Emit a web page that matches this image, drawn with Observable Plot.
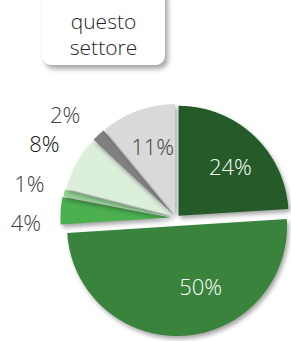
<!DOCTYPE html>
<html>
<head>
<meta charset="utf-8">
<script src="https://cdn.jsdelivr.net/npm/d3@7"></script>
<script src="https://cdn.jsdelivr.net/npm/@observablehq/plot@0.6"></script>
<style>
  html, body { margin: 0; padding: 0; background: #fff; }
  #wrap { position: relative; width: 291px; height: 341px; overflow: hidden; font-family: "Open Sans", sans-serif; }
  #title {
    position: absolute; left: 42px; top: -12px; width: 123px; height: 77px;
    background: #fff; border-radius: 9px;
    box-shadow: 3px 4px 5px rgba(0,0,0,0.35);
    color: #262626; font-size: 21px; font-weight: 300; line-height: 26px; text-align: center;
    box-sizing: border-box; padding-top: 20px; z-index: 2;
  }
  #chart { position: absolute; left: 0; top: 0; }
  #chart g[aria-label="line"] path { filter: drop-shadow(2px 3px 2px rgba(0,0,0,0.35)); }
</style>
</head>
<body>
<div id="wrap">
  <div id="title">questo<br>settore</div>
  <div id="chart"></div>
</div>
<script>
// ---- data ----
const labels = ["24%", "50%", "4%", "1%", "8%", "2%", "11%"];
const values = [24, 50, 4, 1, 8, 2, 11];
const colors = ["#255b29", "#39833c", "#4caf50", "#93d193", "#dbefdb", "#808080", "#d9d9d9"];
const labelColors = ["#ffffff", "#ffffff", "#404040", "#404040", "#111111", "#404040", "#404040"];
const labelInside = [true, true, false, false, false, false, true];

// ---- layout ----
const W = 291, H = 341, R = 110;
const explode = [3, 8, 6, 5, 4, 4, 4];          // px, along mid-angle
const labelShift = [3.7, -15.5, -6, 0, 0, -4.4, 0.9]; // degrees
const rIn = 0.67, rOut = 1.37;

const arcs = d3.pie().sort(null).startAngle(0).endAngle(2 * Math.PI)(values);

const slices = arcs.map((a, i) => {
  const m = (a.startAngle + a.endAngle) / 2;
  const e = explode[i] / R;
  const ox = e * Math.sin(m), oy = e * Math.cos(m);
  const pts = [{x: ox, y: oy}];
  const n = Math.max(2, Math.ceil((a.endAngle - a.startAngle) / (Math.PI / 360)));
  for (let k = 0; k <= n; k++) {
    const t = a.startAngle + (a.endAngle - a.startAngle) * k / n;
    pts.push({x: ox + Math.sin(t), y: oy + Math.cos(t)});
  }
  return {pts, color: colors[i]};
});

const labelData = arcs.map((a, i) => {
  const m = (a.startAngle + a.endAngle) / 2 + labelShift[i] * Math.PI / 180;
  const r = labelInside[i] ? rIn : rOut;
  return {x: r * Math.sin(m), y: r * Math.cos(m), text: labels[i], color: labelColors[i]};
});

const chart = Plot.plot({
  width: W, height: H,
  marginLeft: 176 - R, marginRight: W - (176 + R),
  marginTop: 217.5 - R, marginBottom: H - (217.5 + R),
  x: {domain: [-1, 1], axis: null},
  y: {domain: [-1, 1], axis: null},
  style: {background: "transparent", overflow: "visible"},
  marks: [
    ...slices.map(s => Plot.line(s.pts, {x: "x", y: "y", fill: s.color, stroke: "none", curve: "linear"})),
    Plot.text(labelData, {x: "x", y: "y", text: "text", fill: d => d.color,
      fontSize: 22, fontWeight: 300, fontFamily: "Open Sans, sans-serif"})
  ],
  color: {type: "identity"}
});
document.getElementById("chart").appendChild(chart);
</script>
</body>
</html>
